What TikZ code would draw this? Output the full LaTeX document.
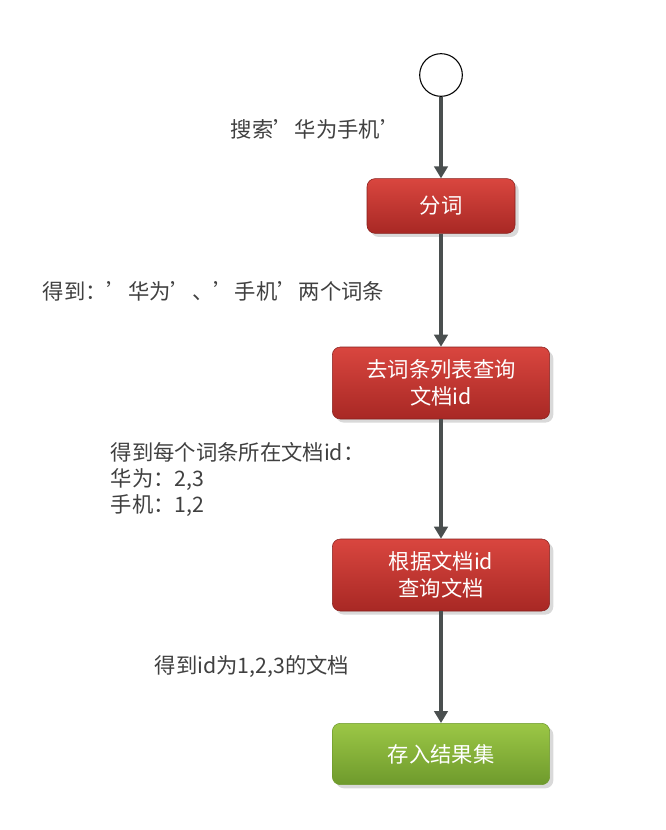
\documentclass[tikz,border=0pt]{standalone}
\usepackage{fontspec}
\setmainfont{Noto Sans CJK SC}
\usetikzlibrary{positioning,shadows,arrows.meta}
\definecolor{redtop}{HTML}{D9463F}
\definecolor{redbot}{HTML}{A82824}
\definecolor{greentop}{HTML}{9CC746}
\definecolor{greenbot}{HTML}{6E9A2C}
\definecolor{linegray}{HTML}{4A4F4F}
\definecolor{textgray}{HTML}{404040}
\tikzset{
  stepbox/.style={rounded corners=6pt, draw=redbot!80!black, top color=redtop, bottom color=redbot,
    text=white, align=center, font=\fontsize{16}{20}\selectfont, drop shadow={opacity=0.3}},
  okbox/.style={stepbox, draw=greenbot, top color=greentop, bottom color=greenbot},
  flow/.style={draw=linegray, line width=3pt, -{Triangle[length=9pt,width=10pt]}},
  note/.style={text=textgray, align=left, font=\fontsize{16}{19.5}\selectfont}
}
\begin{document}
\begin{tikzpicture}[x=0.75pt,y=-0.75pt]
  \useasboundingbox (0,0) rectangle (666,830);

  % states of the search
  \node[circle, draw=black, thick, minimum size=32pt] (start) at (441,75) {};
  \node[stepbox, minimum width=111pt, minimum height=41pt] (split) at (441,206) {分词};
  \node[stepbox, minimum width=163pt, minimum height=54pt] (lookup) at (441,383) {去词条列表查询\\文档id};
  \node[stepbox, minimum width=163pt, minimum height=54pt] (fetch) at (441,575) {根据文档id\\查询文档};
  \node[okbox, minimum width=163pt, minimum height=46pt] (result) at (441,754) {存入结果集};

  % connectors
  \draw[flow] (start) -- (split);
  \draw[flow] (split) -- (lookup);
  \draw[flow] (lookup) -- (fetch);
  \draw[flow] (fetch) -- (result);

  % labels
  \node[note, anchor=west] (l1) at (226,129) {搜索'华为手机'};
  \node[note, anchor=west] (l2) at (38,291) {得到：'华为'、'手机'两个词条};
  \node[note, anchor=north west] (l3) at (106,438) {得到每个词条所在文档id：\\华为：2,3\\手机：1,2};
  \node[note, anchor=west] (l4) at (150,666) {得到id为1,2,3的文档};
\end{tikzpicture}
\end{document}
